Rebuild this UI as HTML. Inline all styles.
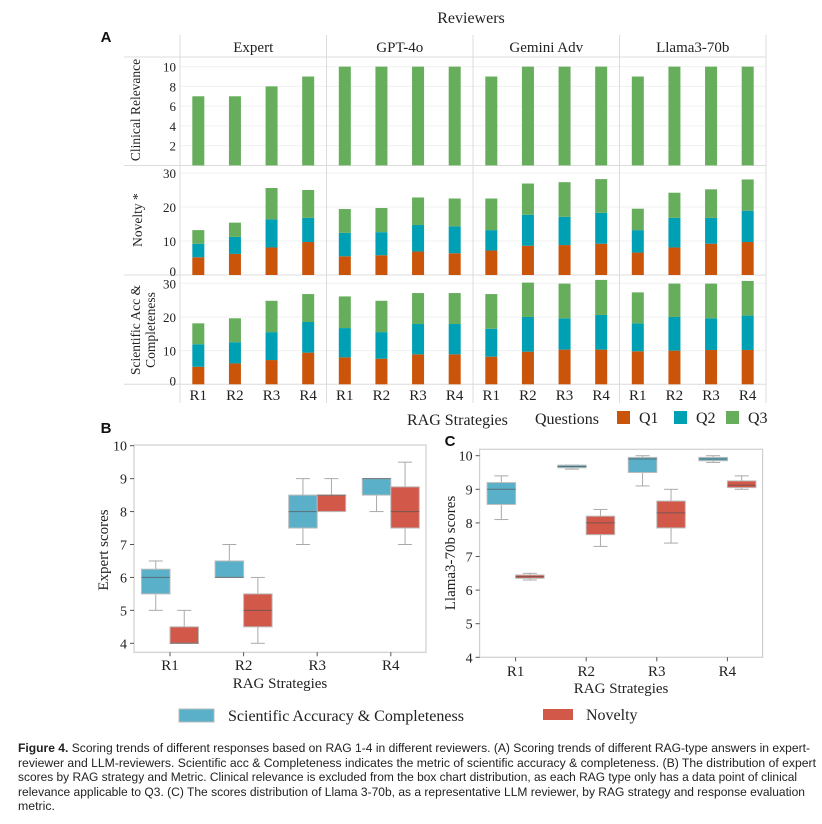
<!DOCTYPE html>
<html><head><meta charset="utf-8"><style>
html,body{margin:0;padding:0;background:#fff;}
svg{display:block;}
.serif{font-family:"Liberation Serif",serif;fill:#222;}
.cap{font-family:"Liberation Sans",sans-serif;font-size:12.3px;fill:#222;}
</style></head><body>
<svg id="fig" width="822" height="824" viewBox="0 0 822 824" xmlns="http://www.w3.org/2000/svg">
<g id="gA"></g>
<g id="gB"></g>
<g id="gC"></g>
<g id="cap">
<text class="cap" x="18" y="752" textLength="792" lengthAdjust="spacingAndGlyphs"><tspan font-weight="bold">Figure 4.</tspan> Scoring trends of different responses based on RAG 1-4 in different reviewers. (A) Scoring trends of different RAG-type answers in expert-</text>
<text class="cap" x="18" y="767" textLength="798" lengthAdjust="spacingAndGlyphs">reviewer and LLM-reviewers. Scientific acc &amp; Completeness indicates the metric of scientific accuracy &amp; completeness. (B) The distribution of expert</text>
<text class="cap" x="18" y="781" textLength="779" lengthAdjust="spacingAndGlyphs">scores by RAG strategy and Metric. Clinical relevance is excluded from the box chart distribution, as each RAG type only has a data point of clinical</text>
<text class="cap" x="18" y="796" textLength="787" lengthAdjust="spacingAndGlyphs">relevance applicable to Q3. (C) The scores distribution of Llama 3-70b, as a representative LLM reviewer, by RAG strategy and response evaluation</text>
<text class="cap" x="18" y="810">metric.</text>
</g>
</svg>
<script>
// ---------- Panel A data ----------
const reviewers = ["Expert","GPT-4o","Gemini Adv","Llama3-70b"];
const strategies = ["R1","R2","R3","R4"];
const questions = ["Q1","Q2","Q3"];
const clinical = [[7,7,8,9],[10,10,10,10],[9,10,10,10],[9,10,10,10]];
const noveltyQ1 = [[5.2,6.2,8.1,9.7],[5.5,5.8,6.9,6.4],[7.2,8.6,8.8,9.2],[6.6,8.1,9.2,9.7]];
const noveltyQ2 = [[4.0,5.0,8.3,7.1],[6.9,6.8,7.8,7.9],[6.0,9.1,8.3,9.1],[6.6,8.7,7.6,9.2]];
const noveltyQ3 = [[4.0,4.2,9.2,8.2],[7.0,7.1,8.1,8.2],[9.3,9.2,10.2,9.9],[6.3,7.4,8.4,9.2]];
const sciQ1 = [[5.2,6.2,7.2,9.4],[8.0,7.6,8.9,8.9],[8.2,9.7,10.3,10.3],[9.8,10.0,10.2,10.2]];
const sciQ2 = [[6.7,6.3,8.3,9.1],[8.7,7.9,9.0,9.0],[8.3,10.3,9.3,10.3],[8.3,10.0,9.4,10.2]];
const sciQ3 = [[6.2,7.1,9.3,8.3],[9.4,9.3,9.2,9.2],[10.3,10.2,10.3,10.4],[9.2,9.9,10.3,10.3]];
const clinTicks = [2,4,6,8,10];
const stackTicks = [0,10,20,30];
const qColors = ["#c9540a","#00a0b4","#66ad5c"];

// ---------- Panel B / C data ----------
const boxStrategies = ["R1","R2","R3","R4"];
const expertSci = [[5,5.5,6,6.25,6.5],[6,6,6,6.5,7],[7,7.5,8,8.5,9],[8,8.5,9,9,9]];
const expertNov = [[4,4,4,4.5,5],[4,4.5,5,5.5,6],[8,8,8.5,8.5,9],[7,7.5,8,8.75,9.5]];
const llamaSci = [[8.1,8.55,9,9.2,9.4],[9.6,9.64,9.68,9.72,9.72],[9.1,9.5,9.9,9.95,10],[9.8,9.85,9.9,9.95,10]];
const llamaNov = [[6.3,6.35,6.4,6.45,6.5],[7.3,7.65,8,8.2,8.4],[7.4,7.85,8.3,8.65,9],[9,9.05,9.12,9.25,9.4]];
const boxTicks = [4,5,6,7,8,9,10];

const NS="http://www.w3.org/2000/svg";
function mk(parent,tag,attrs,text){const e=document.createElementNS(NS,tag);for(const k in attrs)e.setAttribute(k,attrs[k]);if(text!==undefined)e.textContent=text;parent.appendChild(e);return e;}

// ===== Panel A =====
const A=document.getElementById('gA');
const facetL=180, facetW=146.5;
const rows=[{top:57,bot:165.5},{top:165.5,bot:275},{top:275,bot:384.3}];
const clinY=v=>165.4-v*9.875;
const novY=v=>275-v*3.4;
const sciY=v=>384.3-v*3.367;
let t;
t=mk(A,'text',{x:106,y:42,'font-family':'Liberation Sans,sans-serif','font-weight':'bold','font-size':15,fill:'#111','text-anchor':'middle'},'A');

t=mk(A,'text',{x:471,y:23,class:'serif','font-size':16,'text-anchor':'middle'},'Reviewers');

// gridlines
clinTicks.forEach(v=>{const l=mk(A,'line',{x1:180,x2:766,y1:clinY(v),y2:clinY(v),stroke:'#f0f0f0','stroke-width':1});});
[10,20,30].forEach(v=>{
 let l=mk(A,'line',{x1:180,x2:766,y1:novY(v),y2:novY(v),stroke:'#f0f0f0'});
 l=mk(A,'line',{x1:180,x2:766,y1:sciY(v),y2:sciY(v),stroke:'#f0f0f0'});
});
// facet dividers
for(let i=0;i<=4;i++){const x=facetL+i*facetW;const l=mk(A,'line',{x1:x,x2:x,y1:35,y2:403,stroke:'#dcdcdc'});}
[57,165.5,275,384.3].forEach(y=>{const l=mk(A,'line',{x1:124,x2:766,y1:y,y2:y,stroke:'#dcdcdc'});});
// strip labels
reviewers.forEach((r,i)=>{const s=mk(A,'text',{x:facetL+(i+0.5)*facetW,y:52,class:'serif','font-size':15,'text-anchor':'middle'},r);});
// y ticks
clinTicks.forEach(v=>{const s=mk(A,'text',{x:176,y:clinY(v)+5,class:'serif','font-size':13,'text-anchor':'end'},v);});
stackTicks.forEach(v=>{let s=mk(A,'text',{x:176,y:novY(v)+5-(v===0?4:0),class:'serif','font-size':13,'text-anchor':'end'},v);
 s=mk(A,'text',{x:176,y:sciY(v)+5-(v===0?4:0),class:'serif','font-size':13,'text-anchor':'end'},v);});
// row titles
t=mk(A,'text',{x:0,y:0,class:'serif','font-size':13.5,'text-anchor':'middle',transform:'translate(140,110) rotate(-90)'},'Clinical Relevance');
t=mk(A,'text',{x:0,y:0,class:'serif','font-size':13.5,'text-anchor':'middle',transform:'translate(142,220) rotate(-90)'},'Novelty *');
t=mk(A,'text',{x:0,y:0,class:'serif','font-size':13.5,'text-anchor':'middle',transform:'translate(140,330) rotate(-90)'},'Scientific Acc &');
t=mk(A,'text',{x:0,y:0,class:'serif','font-size':13.5,'text-anchor':'middle',transform:'translate(155,330) rotate(-90)'},'Completeness');
// bars
const bw=12;
reviewers.forEach((r,i)=>{
 strategies.forEach((s,j)=>{
  const cx=facetL+i*facetW+(j+0.5)*facetW/4;
  let b=mk(A,'rect',{x:cx-bw/2,y:clinY(clinical[i][j]),width:bw,height:clinY(0)-clinY(clinical[i][j]),fill:qColors[2]});
  
  const stacks=[[noveltyQ1,noveltyQ2,noveltyQ3,novY,'novelty'],[sciQ1,sciQ2,sciQ3,sciY,'scientific']];
  stacks.forEach(st=>{
   let base=0;
   for(let q=0;q<3;q++){
    const v=st[q][i][j];const y0=st[3](base),y1=st[3](base+v);
    b=mk(A,'rect',{x:cx-bw/2,y:y1,width:bw,height:y0-y1,fill:qColors[q]});
    
    base+=v;
   }
  });
  const lab=mk(A,'text',{x:cx,y:400,class:'serif','font-size':15,'text-anchor':'middle'},s);
  
 });
});
// legend A
t=mk(A,'text',{x:407,y:425,class:'serif','font-size':16},'RAG Strategies');
t=mk(A,'text',{x:535,y:424,class:'serif','font-size':16},'Questions');
const legX=[617,674,726];
questions.forEach((q,k)=>{
 let r=mk(A,'rect',{x:legX[k],y:411,width:13,height:13,fill:qColors[k]});
 r=mk(A,'text',{x:legX[k]+22,y:423,class:'serif','font-size':16},q);
});

// ===== Box panels =====
function boxPanel(g,cfg){
 const {L,R,T,B,y10,y4,xs,sci,nov,ylabel,letter,lx,ly,ytx,ytitleY,xlabY,xtitleY}=cfg;
 const Y=v=>y4+(v-4)*(y10-y4)/6;
 let e=mk(g,'text',{x:lx,y:ly,'font-family':'Liberation Sans,sans-serif','font-weight':'bold','font-size':15,fill:'#111','text-anchor':'middle'},letter);
 
 e=mk(g,'rect',{x:L,y:T,width:R-L,height:B-T,fill:'#fff',stroke:'#cfcfcf','stroke-width':1.2});
 
 boxTicks.forEach(v=>{
  let tk=mk(g,'line',{x1:L-4,x2:L,y1:Y(v),y2:Y(v),stroke:'#555'});
  tk=mk(g,'text',{x:L-7,y:Y(v)+5,class:'serif','font-size':14,'text-anchor':'end'},v);
 });
 e=mk(g,'text',{x:0,y:0,class:'serif','font-size':15,'text-anchor':'middle',transform:'translate('+ytx+','+ytitleY+') rotate(-90)'},ylabel);
 
 const bwid=28.5;
 boxStrategies.forEach((s,j)=>{
  const cx=xs[0]+j*(xs[1]-xs[0]);
  let tk=mk(g,'line',{x1:cx,x2:cx,y1:B,y2:B+4,stroke:'#555'});
  tk=mk(g,'text',{x:cx,y:xlabY,class:'serif','font-size':15,'text-anchor':'middle'},s);
  [[sci[j],'#5ab0c8',cx-bwid,'sci'],[nov[j],'#d2584a',cx,'novelty']].forEach(([d,col,x0,nm])=>{
   const m=x0+bwid/2;
   let w=mk(g,'line',{x1:m,x2:m,y1:Y(d[0]),y2:Y(d[4]),stroke:'#aaa'});
   w=mk(g,'line',{x1:m-7,x2:m+7,y1:Y(d[0]),y2:Y(d[0]),stroke:'#aaa'});
   w=mk(g,'line',{x1:m-7,x2:m+7,y1:Y(d[4]),y2:Y(d[4]),stroke:'#aaa'});
   const bh=Math.max(Y(d[1])-Y(d[3]),2);
   w=mk(g,'rect',{x:x0,y:Y(d[3]),width:bwid,height:bh,fill:col,stroke:'#bbb','stroke-width':1});
   w=mk(g,'line',{x1:x0,x2:x0+bwid,y1:Y(d[2]),y2:Y(d[2]),stroke:'#555','stroke-width':1,opacity:0.7});
  });
 });
 e=mk(g,'text',{x:(L+R)/2,y:xtitleY,class:'serif','font-size':15,'text-anchor':'middle'},'RAG Strategies');
 
}
boxPanel(document.getElementById('gB'),{L:134,R:426,T:445,B:652.3,y10:445.7,y4:643.3,xs:[170,243.6],sci:expertSci,nov:expertNov,ylabel:'Expert scores',letter:'B',lx:106,ly:433,ytx:108,ytitleY:550,xlabY:670,xtitleY:688});
boxPanel(document.getElementById('gC'),{L:479.6,R:762.6,T:449.3,B:657.3,y10:455.7,y4:657.3,xs:[515.6,586.2],sci:llamaSci,nov:llamaNov,ylabel:'Llama3-70b scores',letter:'C',lx:450,ly:446,ytx:455,ytitleY:553,xlabY:676,xtitleY:693});
// legend B/C
const gB=document.getElementById('gB');
let le=mk(gB,'rect',{x:179,y:709,width:35,height:13,fill:'#5ab0c8',stroke:'#bbb'});
le=mk(gB,'text',{x:228,y:721,class:'serif','font-size':16},'Scientific Accuracy & Completeness');
le=mk(gB,'rect',{x:543,y:709,width:30,height:11,fill:'#d2584a'});
le=mk(gB,'text',{x:586,y:720,class:'serif','font-size':16},'Novelty');
</script>
</body></html>
